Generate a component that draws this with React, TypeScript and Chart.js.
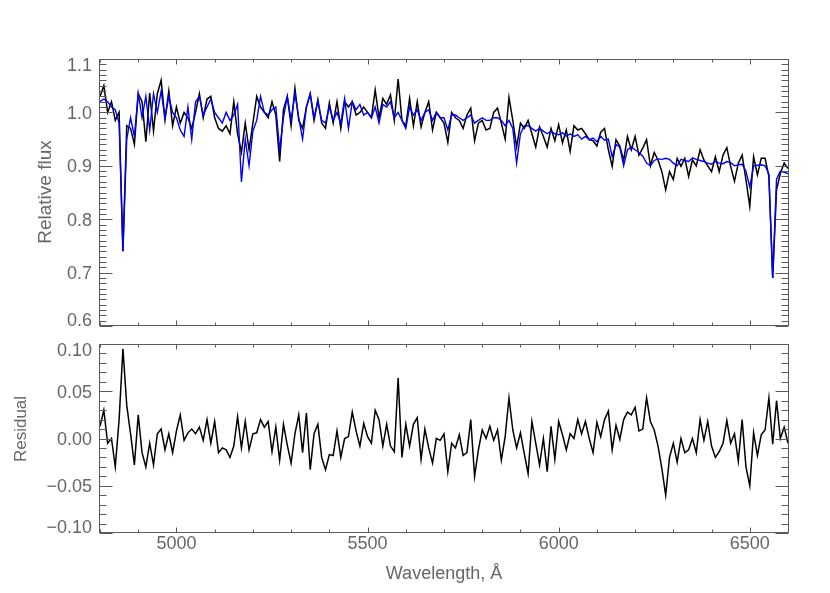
import React, { useEffect, useRef } from "react";
import { Chart, registerables } from "chart.js";

Chart.register(...registerables);

// Wavelength grid (Å)
const wavelength = [
  4800, 4810, 4820, 4830, 4840, 4850, 4860, 4870, 4880, 4890,
  4900, 4910, 4920, 4930, 4940, 4950, 4960, 4970, 4980, 4990,
  5000, 5010, 5020, 5030, 5040, 5050, 5060, 5070, 5080, 5090,
  5100, 5110, 5120, 5130, 5140, 5150, 5160, 5170, 5180, 5190,
  5200, 5210, 5220, 5230, 5240, 5250, 5260, 5270, 5280, 5290,
  5300, 5310, 5320, 5330, 5340, 5350, 5360, 5370, 5380, 5390,
  5400, 5410, 5420, 5430, 5440, 5450, 5460, 5470, 5480, 5490,
  5500, 5510, 5520, 5530, 5540, 5550, 5560, 5570, 5580, 5590,
  5600, 5610, 5620, 5630, 5640, 5650, 5660, 5670, 5680, 5690,
  5700, 5710, 5720, 5730, 5740, 5750, 5760, 5770, 5780, 5790,
  5800, 5810, 5820, 5830, 5840, 5850, 5860, 5870, 5880, 5890,
  5900, 5910, 5920, 5930, 5940, 5950, 5960, 5970, 5980, 5990,
  6000, 6010, 6020, 6030, 6040, 6050, 6060, 6070, 6080, 6090,
  6100, 6110, 6120, 6130, 6140, 6150, 6160, 6170, 6180, 6190,
  6200, 6210, 6220, 6230, 6240, 6250, 6260, 6270, 6280, 6290,
  6300, 6310, 6320, 6330, 6340, 6350, 6360, 6370, 6380, 6390,
  6400, 6410, 6420, 6430, 6440, 6450, 6460, 6470, 6480, 6490,
  6500, 6510, 6520, 6530, 6540, 6550, 6560, 6570, 6580, 6590,
  6600,
];

// Observed relative flux (black)
const observedFlux = [
  1.03, 1.05, 1.0, 1.02, 0.985, 1.0, 0.74, 0.975, 0.97, 0.94,
  1.035, 1.02, 0.945, 1.036, 0.965, 1.035, 1.06, 0.986, 1.04, 0.975,
  1.01, 0.98, 1.0, 0.99, 0.97, 1.0, 1.035, 0.99, 1.025, 1.03,
  0.99, 0.97, 0.965, 0.975, 0.96, 1.02, 0.96, 0.925, 0.98, 0.93,
  0.98, 1.03, 1.01, 1.0, 0.99, 1.02, 0.995, 0.908, 1.005, 1.03,
  0.975, 1.045, 0.985, 0.97, 1.01, 1.035, 0.985, 1.024, 0.98, 0.97,
  1.018, 0.98, 1.02, 0.97, 1.02, 1.01, 1.02, 0.995, 1.0, 1.01,
  1.0, 0.99, 1.042, 0.99, 1.026, 1.015, 1.033, 0.985, 1.0625, 0.985,
  0.975, 1.026, 0.975, 1.02, 0.973, 1.0, 1.02, 0.967, 1.0, 0.99,
  0.98, 0.944, 1.0, 0.99, 0.985, 0.97, 0.995, 1.008, 0.947, 0.98,
  0.985, 0.967, 0.97, 1.0, 1.008, 0.98, 0.95, 1.028, 0.985, 0.935,
  0.98, 0.97, 0.985, 0.96, 0.935, 0.973, 0.955, 0.935, 0.97, 0.947,
  0.977, 0.943, 0.967, 0.927, 0.975, 0.967, 0.97, 0.96, 0.949, 0.947,
  0.937, 0.963, 0.97, 0.93, 0.899, 0.949, 0.937, 0.91, 0.955, 0.93,
  0.955, 0.92, 0.933, 0.949, 0.9, 0.925, 0.911, 0.889, 0.855, 0.889,
  0.874, 0.914, 0.899, 0.914, 0.88, 0.911, 0.9, 0.93, 0.911, 0.9,
  0.889, 0.917, 0.889, 0.92, 0.934, 0.899, 0.871, 0.905, 0.92, 0.874,
  0.824, 0.917, 0.883, 0.914, 0.914, 0.88, 0.69, 0.855, 0.886, 0.905,
  0.895,
];

// Model relative flux (blue)
const modelFlux = [
  1.02, 1.025, 1.02, 1.01, 1.005, 0.98, 0.74, 0.95, 0.99, 0.955,
  1.036, 0.99, 1.03, 0.967, 1.035, 1.0, 1.04, 0.99, 1.03, 1.0,
  0.99, 0.967, 0.955, 1.01, 0.949, 1.02, 1.03, 0.995, 1.01, 1.025,
  1.0, 0.99, 0.98, 1.0, 0.985, 0.995, 1.015, 0.87, 0.95, 0.9,
  0.965, 0.985, 1.03, 1.0, 0.995, 1.005, 1.01, 0.93, 0.99, 1.03,
  0.985, 1.035, 0.99, 0.95, 1.01, 1.035, 0.99, 1.02, 0.985, 0.98,
  1.01, 0.985, 1.0, 0.98, 1.026, 0.97, 1.02, 1.005, 1.015, 0.995,
  1.0, 0.99, 1.01, 0.98, 1.015, 1.01, 1.02, 0.99, 1.0, 0.985,
  0.97, 1.01, 0.995, 1.005, 0.985, 1.0, 1.005, 0.985, 1.0, 0.99,
  0.99, 0.967, 0.995, 0.995, 0.99, 0.985, 0.99, 0.995, 0.98, 0.985,
  0.99, 0.985, 0.985, 0.99, 0.99, 0.985, 0.975, 0.985, 0.97, 0.905,
  0.96, 0.975, 0.975, 0.97, 0.965, 0.97, 0.965, 0.96, 0.965, 0.96,
  0.958, 0.962, 0.955, 0.96, 0.955, 0.958, 0.95, 0.955, 0.949, 0.952,
  0.945, 0.955, 0.948, 0.95, 0.917, 0.94, 0.935, 0.9, 0.93, 0.935,
  0.93, 0.925, 0.918, 0.905, 0.9, 0.91, 0.913, 0.912, 0.914, 0.912,
  0.905, 0.9, 0.912, 0.91, 0.908, 0.915, 0.912, 0.91, 0.908, 0.905,
  0.903, 0.908, 0.905, 0.904, 0.908, 0.906, 0.9, 0.902, 0.903, 0.89,
  0.86, 0.9, 0.901, 0.902, 0.9, 0.885, 0.69, 0.875, 0.89, 0.888,
  0.885,
];

// Residual (bottom panel)
const residual = [
  0.013, 0.03, -0.005, 0.0, -0.03, 0.02, 0.095, 0.035, 0.005, -0.028,
  0.025, -0.015, -0.03, -0.005, -0.028, 0.005, 0.01, -0.012, 0.005, -0.015,
  0.008, 0.025, -0.002, 0.006, 0.01, 0.005, 0.012, -0.002, 0.02, -0.005,
  0.018, -0.015, -0.01, -0.012, -0.02, -0.008, 0.023, -0.01, 0.018, -0.012,
  0.005, 0.006, 0.02, 0.012, 0.018, -0.014, 0.012, -0.023, 0.015, -0.007,
  -0.026, 0.005, 0.025, -0.015, 0.027, -0.033, 0.005, 0.015, -0.02, -0.033,
  -0.017, -0.018, 0.008, -0.02, 0.0, 0.002, 0.028, 0.008, -0.008, 0.016,
  0.002, -0.005, 0.03, 0.02, -0.008, 0.015, -0.008, -0.014, 0.064, -0.02,
  0.015, -0.008, 0.015, 0.022, -0.022, 0.01, -0.01, -0.026, 0.0, -0.002,
  0.005, -0.035, -0.005, -0.01, 0.004, -0.018, -0.015, 0.02, -0.04, -0.012,
  0.009, 0.0, 0.013, -0.002, 0.009, -0.023, 0.002, 0.043, 0.009, -0.01,
  0.006, -0.016, -0.037, 0.018, -0.005, -0.028, 0.0, -0.035, 0.013, -0.022,
  0.018, 0.004, -0.012, 0.005, 0.0, 0.02, 0.005, 0.018, 0.0, -0.015,
  0.017, 0.002, 0.02, 0.029, -0.012, 0.014, -0.001, 0.02, 0.028, 0.025,
  0.033, 0.008, 0.01, 0.043, 0.018, 0.009, -0.008, -0.032, -0.06, -0.02,
  -0.005, -0.025, 0.0, -0.015, -0.012, 0.0, -0.015, 0.02, -0.002, 0.018,
  -0.008, -0.02, -0.014, -0.005, 0.019, -0.005, 0.005, -0.024, 0.02, -0.03,
  -0.05, 0.006, -0.018, 0.004, 0.009, 0.043, -0.006, 0.04, 0.0, 0.012,
  -0.005,
];

const fluxTickLabels = [0.6, 0.7, 0.8, 0.9, 1.0, 1.1];
const residualTickLabels = [-0.1, -0.05, 0, 0.05, 0.1];
const wavelengthTickLabels = [5000, 5500, 6000, 6500];

const AXIS_COLOR = "#5a5a5a";
const TEXT_COLOR = "#666666";
const FONT_FAMILY = '"Liberation Sans", Arial, sans-serif';

type AxisCfg = {
  yMin: number;
  yMax: number;
  yMinor: number;
  yMajor: number;
  yLabels: number[];
  yDecimals: number;
  showXLabels: boolean;
  yTitle: string;
  yTitleX: number;
  yTitleY: number;
  yTitleSize: number;
};

function axesPlugin(cfg: AxisCfg) {
  return {
    id: "idlAxes",
    afterDraw(chart: any) {
      const { ctx, chartArea: a, scales } = chart;
      const xs = scales.x;
      const ys = scales.y;
      ctx.save();
      ctx.strokeStyle = AXIS_COLOR;
      ctx.lineWidth = 1;
      const L = Math.round(a.left) - 0.5;
      const R = Math.round(a.right) + 0.5;
      const T = Math.round(a.top) + 0.5;
      const B = Math.round(a.bottom) - 0.5;
      ctx.beginPath();
      ctx.rect(L, T, R - L, B - T);
      for (let w = 4800; w <= 6600; w += 100) {
        const px = Math.round(xs.getPixelForValue(w)) + 0.5;
        const len = w % 500 === 0 ? 5 : 3;
        ctx.moveTo(px, B);
        ctx.lineTo(px, B - len);
        ctx.moveTo(px, T);
        ctx.lineTo(px, T + len);
      }
      const n = Math.round((cfg.yMax - cfg.yMin) / cfg.yMinor);
      for (let k = 0; k <= n; k++) {
        const v = cfg.yMin + k * cfg.yMinor;
        const r = v / cfg.yMajor;
        const major = Math.abs(r - Math.round(r)) < 1e-6;
        const len = major ? 13 : 7;
        const py = Math.round(ys.getPixelForValue(v)) + 0.5;
        ctx.moveTo(L, py);
        ctx.lineTo(L + len, py);
        ctx.moveTo(R, py);
        ctx.lineTo(R - len, py);
      }
      ctx.stroke();

      ctx.fillStyle = TEXT_COLOR;
      ctx.font = `18px ${FONT_FAMILY}`;
      ctx.textAlign = "right";
      ctx.textBaseline = "middle";
      for (const v of cfg.yLabels) {
        let py = ys.getPixelForValue(v) + 1.5;
        py = Math.max(a.top + 7, Math.min(a.bottom - 5, py));
        const s = v.toFixed(cfg.yDecimals).replace("-", "\u2212");
        ctx.fillText(s, 92, py);
      }
      if (cfg.showXLabels) {
        ctx.textAlign = "center";
        for (const w of wavelengthTickLabels) {
          ctx.fillText(String(w), xs.getPixelForValue(w), a.bottom + 11);
        }
        ctx.fillText("Wavelength, \u00C5", (a.left + a.right) / 2, a.bottom + 41);
      }
      ctx.save();
      ctx.font = `${cfg.yTitleSize}px ${FONT_FAMILY}`;
      ctx.translate(cfg.yTitleX, cfg.yTitleY);
      ctx.rotate(-Math.PI / 2);
      ctx.textAlign = "center";
      ctx.textBaseline = "middle";
      ctx.fillText(cfg.yTitle, 0, 0);
      ctx.restore();
      ctx.restore();
    },
  };
}

const toPoints = (ys: number[]) => wavelength.map((w, i) => ({ x: w, y: ys[i] }));

export default function App() {
  const topRef = useRef<HTMLCanvasElement>(null);
  const botRef = useRef<HTMLCanvasElement>(null);

  useEffect(() => {
    const baseOptions = (padding: any, yMin: number, yMax: number) => ({
      responsive: false,
      animation: false as const,
      devicePixelRatio: 1,
      events: [] as any[],
      layout: { padding },
      scales: {
        x: { type: "linear" as const, min: 4800, max: 6600, display: false },
        y: { type: "linear" as const, min: yMin, max: yMax, display: false },
      },
      plugins: { legend: { display: false }, tooltip: { enabled: false } },
    });

    const top = new Chart(topRef.current!, {
      type: "line",
      data: {
        datasets: [
          {
            label: "Model",
            data: toPoints(modelFlux),
            borderColor: "#0000ff",
            borderWidth: 1.4,
            pointRadius: 0,
            tension: 0,
            order: 0,
          },
          {
            label: "Observed",
            data: toPoints(observedFlux),
            borderColor: "#000000",
            borderWidth: 1.5,
            pointRadius: 0,
            tension: 0,
            order: 1,
          },
        ],
      },
      options: baseOptions({ left: 100, right: 42, top: 59, bottom: 267 }, 0.6, 1.1) as any,
      plugins: [
        axesPlugin({
          yMin: 0.6,
          yMax: 1.1,
          yMinor: 0.01,
          yMajor: 0.1,
          yLabels: fluxTickLabels,
          yDecimals: 1,
          showXLabels: false,
          yTitle: "Relative flux",
          yTitleX: 46,
          yTitleY: 192,
          yTitleSize: 19,
        }),
      ],
    });

    const bot = new Chart(botRef.current!, {
      type: "line",
      data: {
        datasets: [
          {
            label: "Residual",
            data: toPoints(residual),
            borderColor: "#000000",
            borderWidth: 1.5,
            pointRadius: 0,
            tension: 0,
          },
        ],
      },
      options: baseOptions({ left: 100, right: 42, top: 344, bottom: 60 }, -0.1, 0.1) as any,
      plugins: [
        axesPlugin({
          yMin: -0.1,
          yMax: 0.1,
          yMinor: 0.01,
          yMajor: 0.05,
          yLabels: residualTickLabels,
          yDecimals: 2,
          showXLabels: true,
          yTitle: "Residual",
          yTitleX: 21,
          yTitleY: 429,
          yTitleSize: 17,
        }),
      ],
    });

    return () => {
      top.destroy();
      bot.destroy();
    };
  }, []);

  return (
    <div style={{ position: "absolute", left: 0, top: 0, width: 830, height: 593, background: "#ffffff" }}>
      <canvas ref={topRef} width={830} height={593} style={{ position: "absolute", left: 0, top: 0 }} />
      <canvas ref={botRef} width={830} height={593} style={{ position: "absolute", left: 0, top: 0 }} />
    </div>
  );
}
